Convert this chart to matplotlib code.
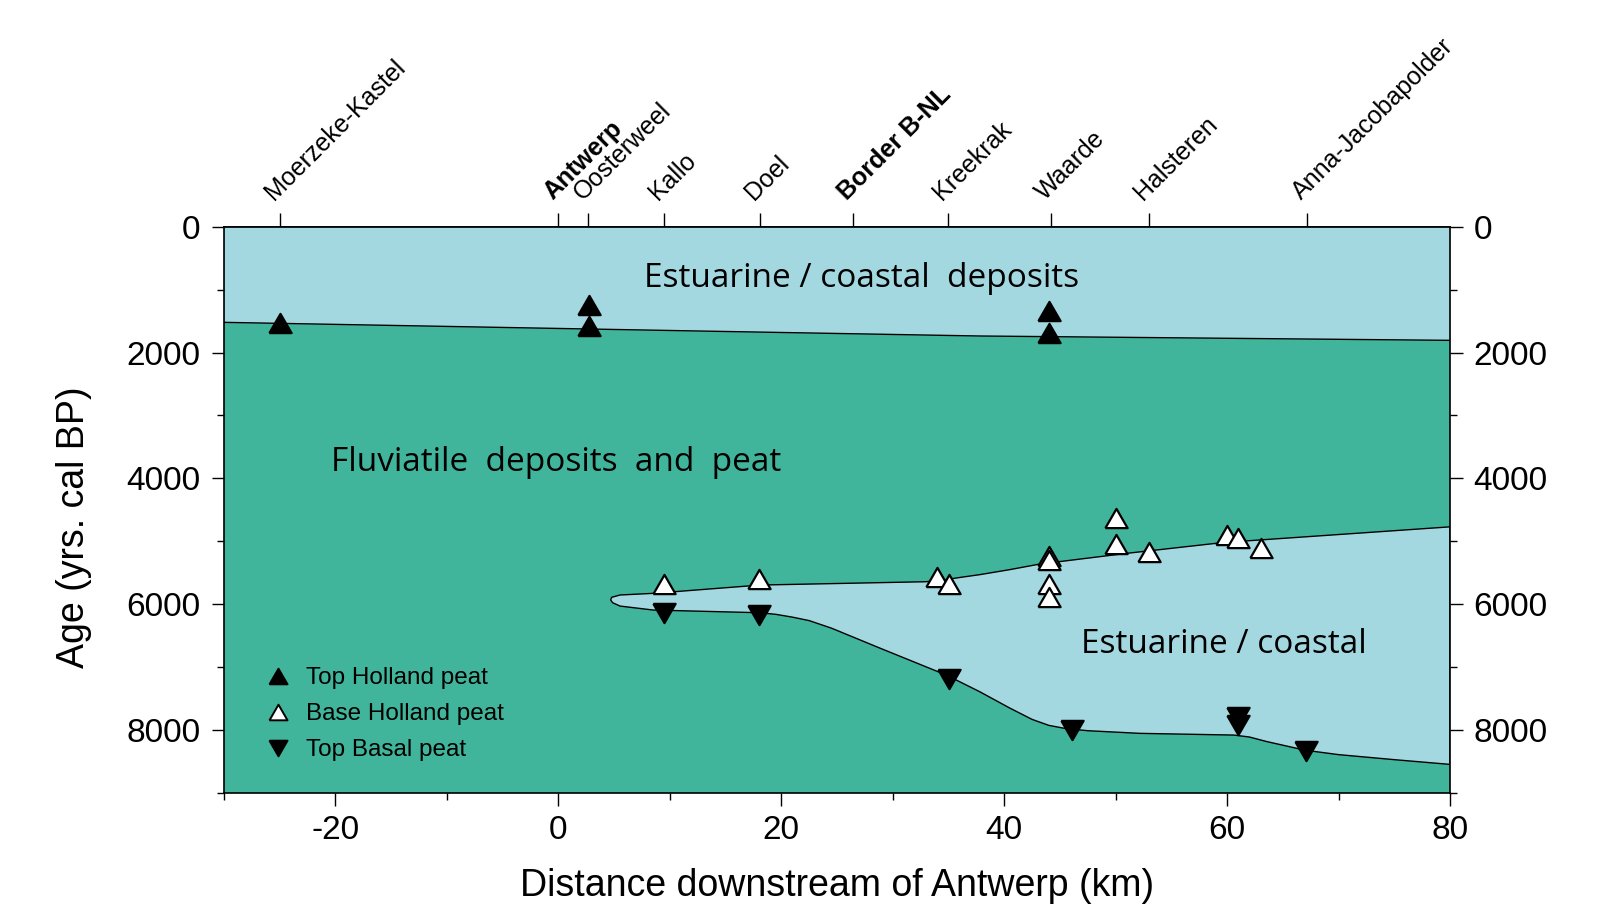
import matplotlib
matplotlib.use("Agg")
import matplotlib.pyplot as plt
import matplotlib.transforms as mtransforms
from matplotlib.lines import Line2D
from matplotlib.ticker import MultipleLocator

plt.rcParams['font.family'] = ['Liberation Sans', 'DejaVu Sans']
plt.rcParams['axes.unicode_minus'] = False

# sites along the estuary, km downstream of Antwerp
site_names = ["Moerzeke-Kastel", "Antwerp", "Oosterweel", "Kallo", "Doel",
              "Border B-NL", "Kreekrak", "Waarde", "Halsteren", "Anna-Jacobapolder"]
site_km = [-25.0, 0.0, 2.7, 9.5, 18.1, 26.4, 35.0, 44.2, 53.0, 67.2]
bold_sites = ["Antwerp", "Border B-NL"]

# dated peat horizons (yrs cal BP)
top_holland_km = [-25.0, 2.75, 2.75, 44.0, 44.0]
top_holland_age = [1530, 1240, 1575, 1335, 1685]

base_holland_km = [9.5, 18.0, 34.0, 35.05, 44.0, 44.0, 44.0, 44.0,
                   50.0, 50.0, 53.0, 60.0, 61.0, 63.0]
base_holland_age = [5680, 5595, 5570, 5680, 5235, 5300, 5680, 5880,
                    4635, 5035, 5165, 4900, 4940, 5110]

top_basal_km = [9.5, 18.0, 35.05, 46.05, 61.0, 61.0, 67.05]
top_basal_age = [6135, 6175, 7190, 8000, 7790, 7920, 8330]

# base of the upper estuarine / coastal unit
upper_km = [-30.0, 12.7, 37.8, 80.0]
upper_age = [1520, 1658, 1737, 1806]

# lower estuarine / coastal wedge, top and base contacts from the tip seaward
wedge_top_km = [4.69, 4.78, 5.53, 8.5, 18.1, 33.0, 34.5, 36.0, 37.8, 40.5, 43.2,
                51.0, 59.0, 62.0, 80.0]
wedge_top_age = [5933, 5890, 5853, 5827, 5695, 5642, 5615, 5575, 5530, 5450, 5361,
                 5191, 5032, 4990, 4770]
wedge_base_km = [4.69, 4.87, 5.53, 8.5, 18.1, 19.5, 21.0, 22.5, 24.5, 28.9, 34.8,
                 37.8, 40.5, 42.5, 44.0, 45.5, 47.5, 52.2, 60.6, 62.0, 63.5, 65.5,
                 67.0, 70.0, 75.0, 80.0]
wedge_base_age = [5933, 5976, 6029, 6092, 6135, 6160, 6205, 6260, 6380, 6701, 7125,
                  7390, 7650, 7830, 7925, 7975, 8010, 8052, 8079, 8110, 8180, 8260,
                  8320, 8390, 8470, 8545]

green = "#41B59B"
light_blue = "#A3D8E1"

# equilateral triangles centred on their bounding box (closed outlines)
tri_up = [(-1, -0.866), (1, -0.866), (0, 0.866), (-1, -0.866)]
tri_down = [(-1, 0.866), (1, 0.866), (0, -0.866), (-1, 0.866)]

fig = plt.figure(figsize=(15.98, 9.09), dpi=100)
ax = fig.add_axes([0.1402, 0.1276, 0.7672, 0.6230])
ax.set_facecolor(green)

ax.fill_between(upper_km, 0, upper_age, color=light_blue, lw=0, zorder=1)
ax.plot(upper_km, upper_age, color="k", lw=1.0, zorder=2)

poly_km = wedge_top_km + wedge_base_km[::-1]
poly_age = wedge_top_age + wedge_base_age[::-1]
ax.fill(poly_km, poly_age, facecolor=light_blue, edgecolor="k", lw=1.0,
        joinstyle="round", zorder=2)

mk = dict(ls="none", ms=16, mew=1.6, mec="k", zorder=5, clip_on=False)
ax.plot(top_holland_km, top_holland_age, marker=tri_up, mfc="k", **mk)
ax.plot(base_holland_km, base_holland_age, marker=tri_up, mfc="white", **mk)
ax.plot(top_basal_km, top_basal_age, marker=tri_down, mfc="k", **mk)

region_font = dict(family=["Open Sans", "DejaVu Sans"], fontsize=24, zorder=4)
ax.text(7.68, 965, "Estuarine / coastal  deposits", ha="left", va="baseline", **region_font)
ax.text(-20.39, 3880, "Fluviatile  deposits  and  peat", ha="left", va="baseline", **region_font)
ax.text(46.9, 6779, "Estuarine / coastal", ha="left", va="baseline", **region_font)

ax.set_xlim(-30, 80)
ax.set_ylim(9000, 0)
ax.set_xticks(range(-20, 81, 20))
ax.xaxis.set_minor_locator(MultipleLocator(10))
ax.set_yticks(range(0, 8001, 2000))
ax.yaxis.set_minor_locator(MultipleLocator(1000))
ax.tick_params(axis="both", which="both", direction="out", width=1.0, labelsize=24)
ax.tick_params(axis="both", which="major", length=9)
ax.tick_params(axis="both", which="minor", length=5)
ax.tick_params(axis="x", which="both", top=False, pad=7)
ax.tick_params(axis="y", which="both", left=True, right=True, labelright=True, pad=8)
for sp in ax.spines.values():
    sp.set_linewidth(1.2)
    sp.set_zorder(6)

ax.set_xlabel("Distance downstream of Antwerp (km)", fontsize=27)
ax.xaxis.set_label_coords(0.5, -0.133)
ax.set_ylabel("Age (yrs. cal BP)", fontsize=27)
ax.yaxis.set_label_coords(-0.108, 0.47)

# site ticks along the top
secax = ax.secondary_xaxis("top")
secax.set_xticks(site_km)
secax.set_xticklabels([])
secax.tick_params(direction="out", length=10, width=1.0)
secax.spines["top"].set_linewidth(1.2)

lab_tr = mtransforms.offset_copy(ax.get_xaxis_transform(), fig=fig, x=-6, y=26, units="dots")
for name, km in zip(site_names, site_km):
    ax.text(km, 1.0, name, transform=lab_tr, rotation=45, rotation_mode="anchor",
            ha="left", va="baseline", fontsize=18, clip_on=False,
            fontweight="bold" if name in bold_sites else "normal")

handles = [
    Line2D([], [], ls="none", marker=tri_up, ms=13, mfc="k", mec="k", mew=1.4),
    Line2D([], [], ls="none", marker=tri_up, ms=13, mfc="white", mec="k", mew=1.4),
    Line2D([], [], ls="none", marker=tri_down, ms=13, mfc="k", mec="k", mew=1.4),
]
labels = ["Top Holland peat", "Base Holland peat", "Top Basal peat"]
leg = ax.legend(handles, labels, loc="upper left", bbox_to_anchor=(0.034, 0.222),
                frameon=False, fontsize=17.5, borderpad=0, borderaxespad=0,
                handlelength=1.0, handletextpad=0.65, labelspacing=0.57)
leg.set_zorder(7)

fig.savefig("out.png", dpi=100)
